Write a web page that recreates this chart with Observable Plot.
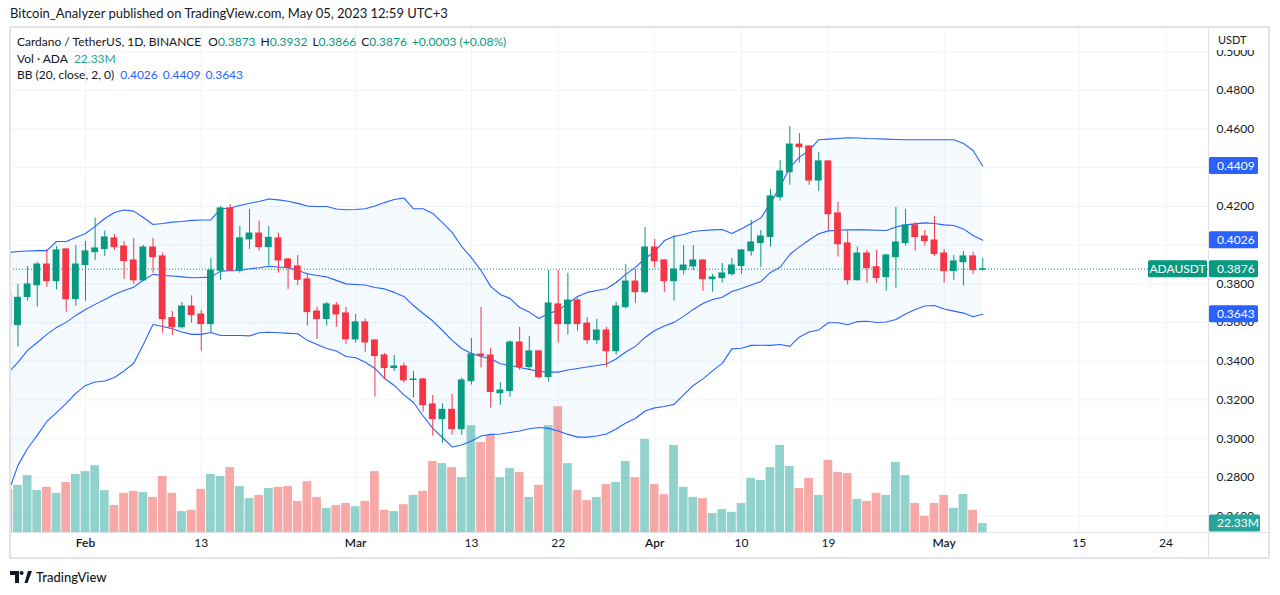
<!DOCTYPE html>
<html>
<head>
<meta charset="utf-8">
<script src="https://cdn.jsdelivr.net/npm/d3@7"></script>
<script src="https://cdn.jsdelivr.net/npm/@observablehq/plot@0.6"></script>
<style>
  body { margin: 0; background: #ffffff; font-family: Lato, "Noto Sans", sans-serif; color: #131722; }
  #wrap { position: relative; width: 1280px; height: 595px; overflow: hidden; background: #fff; }
  .layer { position: absolute; left: 0; top: 0; }
  .abs { position: absolute; white-space: nowrap; }
  .leg { font-size: 12px; line-height: 16px; }
  .gv { color: #089981; }
  .bv { color: #2962ff; }
  .sp { margin-left: 5px; }
  .line { position: absolute; background: #e0e3eb; }
</style>
</head>
<body>
<div id="wrap">
  <div class="abs" id="hdr" style="left:10px; top:5px; font-size:13px;">Bitcoin_Analyzer published on TradingView.com, May 05, 2023 12:59 UTC+3</div>
  <div class="layer" id="gridLayer"></div>
  <div class="layer" id="volLayer"></div>
  <div class="layer" id="mainLayer"></div>
  <div class="line" style="left:9px; top:26px; width:1261px; height:2px;"></div>
  <div class="line" style="left:9px; top:557px; width:1261px; height:2px;"></div>
  <div class="line" style="left:9px; top:26px; width:2px; height:533px;"></div>
  <div class="line" style="left:1268px; top:26px; width:2px; height:533px;"></div>
  <div class="line" style="left:1208px; top:26px; width:1px; height:533px;"></div>
  <div class="line" style="left:9px; top:532px; width:1261px; height:1px;"></div>
  <div class="abs leg" style="left:17px; top:34px;">Cardano / TetherUS, 1D, BINANCE<span class="sp" style="margin-left:7px">O<span class="gv">0.3873</span></span><span class="sp">H<span class="gv">0.3932</span></span><span class="sp">L<span class="gv">0.3866</span></span><span class="sp">C<span class="gv">0.3876</span></span><span class="sp gv">+0.0003 (+0.08%)</span></div>
  <div class="abs leg" style="left:17px; top:51px;">Vol · ADA<span class="sp" style="margin-left:6px; color:#26a69a">22.33M</span></div>
  <div class="abs leg" style="left:17px; top:67px;">BB (20, close, 2, 0)<span class="sp bv" style="margin-left:6px">0.4026</span><span class="sp bv">0.4409</span><span class="sp bv">0.3643</span></div>
  <div class="abs" style="left:10px; top:569px; display:flex; align-items:center; gap:4px;">
    <svg width="22" height="12" viewBox="0 0 22 12"><path d="M0 0h9v12h-4v-8h-5z" fill="#131722"/><circle cx="11.6" cy="2" r="2" fill="#131722"/><path d="M14.5 12 L18 0 h4 l-4.5 12z" fill="#131722"/></svg>
    <span style="font-size:13px; font-weight:500; color:#131722;">TradingView</span>
  </div>
</div>
<script>
// ---------- data ----------
const dates = d3.utcDay.range(new Date("2023-01-24T00:00Z"), new Date("2023-05-06T00:00Z"));

const open = [0.3749,0.3587,0.3732,0.3793,0.3900,0.3814,0.3978,0.3721,0.3897,0.3964,
0.3980,0.4035,0.3993,0.3921,0.3818,0.3988,0.3942,0.3623,0.3576,0.3683,
0.3642,0.3592,0.3868,0.4190,0.3869,0.4030,0.4060,0.3990,0.4035,0.3926,
0.3890,0.3823,0.3657,0.3618,0.3688,0.3647,0.3513,0.3601,0.3508,0.3430,
0.3365,0.3373,0.3303,0.3306,0.3177,0.3101,0.3149,0.3049,0.3297,0.3435,
0.3430,0.3235,0.3246,0.3497,0.3370,0.3451,0.3318,0.3694,0.3592,0.3714,
0.3595,0.3509,0.3559,0.3452,0.3680,0.3812,0.3757,0.3988,0.3921,0.3814,
0.3871,0.3890,0.3921,0.3824,0.3830,0.3850,0.3892,0.3969,0.4011,0.4042,
0.4248,0.4377,0.4520,0.4510,0.4334,0.4433,0.4164,0.4009,0.3819,0.3957,
0.3886,0.3835,0.3938,0.4011,0.4102,0.4045,0.4024,0.3957,0.3866,0.3912,
0.3942,0.3873];
const high = [0.3770,0.3797,0.3890,0.3912,0.3978,0.3993,0.3981,0.3999,0.4019,0.4140,
0.4073,0.4055,0.4019,0.4035,0.3999,0.4035,0.3959,0.3657,0.3704,0.3738,
0.3663,0.3931,0.4200,0.4210,0.4097,0.4185,0.4124,0.4097,0.4062,0.3933,
0.3947,0.3855,0.3680,0.3704,0.3704,0.3678,0.3642,0.3618,0.3510,0.3440,
0.3430,0.3389,0.3347,0.3310,0.3223,0.3180,0.3228,0.3313,0.3518,0.3678,
0.3466,0.3291,0.3506,0.3575,0.3528,0.3455,0.3869,0.3869,0.3854,0.3725,
0.3626,0.3616,0.3575,0.3704,0.3900,0.3874,0.4091,0.4029,0.3926,0.4050,
0.3998,0.3998,0.3924,0.3849,0.3905,0.3931,0.3978,0.4128,0.4076,0.4288,
0.4438,0.4613,0.4577,0.4515,0.4479,0.4435,0.4222,0.4071,0.3990,0.3973,
0.3973,0.3952,0.4195,0.4185,0.4117,0.4076,0.4148,0.3978,0.3947,0.3968,
0.3962,0.3932];
const low = [0.3560,0.3473,0.3711,0.3680,0.3783,0.3769,0.3654,0.3685,0.3711,0.3921,
0.3942,0.3973,0.3823,0.3797,0.3815,0.3855,0.3545,0.3533,0.3566,0.3597,
0.3452,0.3547,0.3818,0.3864,0.3855,0.3978,0.3969,0.3895,0.3855,0.3771,
0.3792,0.3582,0.3513,0.3582,0.3576,0.3487,0.3494,0.3446,0.3215,0.3306,
0.3347,0.3287,0.3210,0.3137,0.3013,0.2977,0.3018,0.3018,0.3277,0.3365,
0.3158,0.3173,0.3215,0.3353,0.3353,0.3308,0.3292,0.3494,0.3535,0.3556,
0.3487,0.3487,0.3370,0.3432,0.3669,0.3700,0.3747,0.3881,0.3757,0.3711,
0.3845,0.3869,0.3762,0.3757,0.3804,0.3840,0.3850,0.3943,0.3886,0.3990,
0.4228,0.4310,0.4424,0.4310,0.4279,0.4076,0.3938,0.3793,0.3814,0.3804,
0.3804,0.3762,0.3778,0.3995,0.3969,0.3995,0.3943,0.3804,0.3819,0.3788,
0.3850,0.3866];
const close = [0.3582,0.3728,0.3797,0.3900,0.3814,0.3973,0.3721,0.3900,0.3968,0.3983,
0.4040,0.3990,0.3918,0.3818,0.3988,0.3938,0.3618,0.3576,0.3683,0.3639,
0.3592,0.3869,0.4190,0.3869,0.4035,0.4060,0.3990,0.4038,0.3921,0.3883,
0.3821,0.3654,0.3618,0.3694,0.3642,0.3513,0.3601,0.3497,0.3427,0.3365,
0.3373,0.3301,0.3306,0.3173,0.3101,0.3149,0.3049,0.3301,0.3435,0.3427,
0.3241,0.3249,0.3497,0.3370,0.3451,0.3318,0.3699,0.3592,0.3714,0.3592,
0.3509,0.3559,0.3452,0.3683,0.3812,0.3757,0.3988,0.3917,0.3814,0.3874,
0.3895,0.3921,0.3824,0.3833,0.3854,0.3895,0.3973,0.4014,0.4045,0.4252,
0.4381,0.4520,0.4507,0.4334,0.4433,0.4160,0.4005,0.3819,0.3957,0.3881,
0.3830,0.3947,0.4014,0.4102,0.4042,0.4021,0.3954,0.3866,0.3916,0.3942,
0.3871,0.3876];
// volume in millions of ADA
const volume = [107,117,141,104,112,97,124,144,151,166,
104,67,97,102,99,87,139,97,52,55,
107,144,139,161,114,84,92,109,112,114,
77,126,87,60,67,72,64,77,151,55,
52,69,92,102,176,171,161,136,265,223,
241,136,159,149,87,117,265,312,171,104,
79,87,119,124,176,136,231,119,94,216,
112,87,84,47,57,50,72,134,129,161,
216,164,109,134,92,179,149,146,82,77,
97,92,174,141,72,40,72,92,60,94,
55,22.33];
const bbUpper = [0.3962,0.3967,0.3970,0.3972,0.3972,0.4019,0.4019,0.4040,0.4060,0.4097,
0.4138,0.4169,0.4182,0.4176,0.4143,0.4107,0.4112,0.4119,0.4122,0.4128,
0.4130,0.4131,0.4188,0.4192,0.4205,0.4217,0.4226,0.4239,0.4234,0.4227,
0.4216,0.4202,0.4200,0.4200,0.4187,0.4183,0.4184,0.4188,0.4202,0.4220,
0.4236,0.4244,0.4188,0.4188,0.4164,0.4117,0.4066,0.3993,0.3936,0.3869,
0.3787,0.3745,0.3725,0.3678,0.3654,0.3621,0.3647,0.3663,0.3699,0.3735,
0.3756,0.3766,0.3775,0.3807,0.3849,0.3885,0.3931,0.3967,0.4024,0.4045,
0.4055,0.4071,0.4076,0.4079,0.4081,0.4060,0.4085,0.4112,0.4141,0.4216,
0.4303,0.4402,0.4455,0.4489,0.4545,0.4548,0.4551,0.4555,0.4554,0.4551,
0.4550,0.4548,0.4546,0.4545,0.4545,0.4545,0.4545,0.4545,0.4545,0.4526,
0.4489,0.4409];
const bbBasis = [0.3342,0.3394,0.3456,0.3497,0.3539,0.3575,0.3601,0.3637,0.3668,0.3694,
0.3719,0.3745,0.3766,0.3783,0.3820,0.3849,0.3843,0.3841,0.3836,0.3832,
0.3833,0.3835,0.3866,0.3868,0.3869,0.3878,0.3883,0.3891,0.3887,0.3883,
0.3869,0.3852,0.3843,0.3836,0.3818,0.3800,0.3797,0.3794,0.3781,0.3774,
0.3756,0.3735,0.3688,0.3647,0.3608,0.3559,0.3508,0.3466,0.3440,0.3425,
0.3413,0.3387,0.3378,0.3368,0.3358,0.3347,0.3344,0.3344,0.3355,0.3363,
0.3370,0.3378,0.3386,0.3412,0.3448,0.3477,0.3523,0.3559,0.3582,0.3601,
0.3632,0.3668,0.3699,0.3719,0.3731,0.3761,0.3776,0.3794,0.3812,0.3859,
0.3886,0.3952,0.3991,0.4027,0.4059,0.4074,0.4077,0.4079,0.4080,0.4079,
0.4077,0.4076,0.4094,0.4105,0.4110,0.4115,0.4112,0.4105,0.4102,0.4084,
0.4050,0.4026];
const bbLower = [0.2722,0.2862,0.2949,0.3017,0.3089,0.3135,0.3182,0.3234,0.3275,0.3293,
0.3298,0.3316,0.3350,0.3390,0.3487,0.3590,0.3580,0.3568,0.3551,0.3539,
0.3539,0.3549,0.3533,0.3533,0.3533,0.3531,0.3547,0.3550,0.3547,0.3544,
0.3542,0.3508,0.3487,0.3466,0.3453,0.3425,0.3418,0.3395,0.3363,0.3311,
0.3275,0.3226,0.3187,0.3117,0.3053,0.3006,0.2957,0.2967,0.2988,0.3014,
0.3022,0.3024,0.3032,0.3040,0.3051,0.3058,0.3053,0.3040,0.3022,0.3008,
0.3008,0.3014,0.3024,0.3050,0.3081,0.3104,0.3143,0.3159,0.3166,0.3177,
0.3226,0.3275,0.3309,0.3350,0.3389,0.3464,0.3467,0.3482,0.3483,0.3482,
0.3487,0.3477,0.3526,0.3551,0.3562,0.3599,0.3599,0.3589,0.3605,0.3607,
0.3600,0.3603,0.3616,0.3644,0.3668,0.3686,0.3688,0.3670,0.3659,0.3649,
0.3630,0.3643];

const priceTicks = [0.26,0.28,0.30,0.32,0.34,0.36,0.38,0.40,0.42,0.44,0.46,0.48,0.50];
// axis labels that show in the picture (0.40 and 0.44 sit wholly under the indicator tags)
const priceLabels = [0.26,0.28,0.30,0.32,0.34,0.36,0.38,0.42,0.46,0.48,0.50];
const timeTickDates = ["2023-02-01","2023-02-13","2023-03-01","2023-03-13","2023-03-22","2023-04-01","2023-04-10","2023-04-19","2023-05-01","2023-05-15","2023-05-24"];
const timeTickLabels = ["Feb","13","Mar","13","22","Apr","10","19","May","15","24"];
const lastPrice = 0.3876;
const lastVolume = 22.33;
const bbLastValues = [0.4409, 0.4026, 0.3643];

// ---------- tables ----------
const UP = "#089981", DOWN = "#f23645";
const rows = dates.map((date, i) => ({
  date, open: open[i], high: high[i], low: low[i], close: close[i],
  volume: volume[i], upper: bbUpper[i], basis: bbBasis[i], lower: bbLower[i],
  up: close[i] >= open[i]
}));
const ticks = timeTickDates.map((s, i) => ({date: new Date(s + "T00:00Z"), label: timeTickLabels[i], month: isNaN(+timeTickLabels[i])}));

const W = 1280, H = 560;
const frame = {width: W, height: H, marginLeft: 10, marginRight: 72, marginTop: 27, marginBottom: 28};
const xScale = {type: "utc", domain: [new Date("2023-01-24T05:28Z"), new Date("2023-05-28T09:36Z")], axis: null};
const yScale = {domain: [0.2515, 0.5125], axis: null};
const FONT = "Lato, 'Noto Sans', sans-serif";
const HOUR = 3600e3;

// grid layer
const gridPlot = Plot.plot({
  ...frame, x: xScale, y: yScale,
  style: {background: "transparent"},
  marks: [
    Plot.ruleY(priceTicks, {stroke: "#f0f3fa"}),
    Plot.ruleX(ticks, {x: "date", stroke: "#f0f3fa"})
  ]
});
document.getElementById("gridLayer").appendChild(gridPlot);

// volume layer (own scale, overlaid on the bottom of the price pane)
const volPlot = Plot.plot({
  ...frame, x: xScale,
  y: {domain: [0, 320], range: [532, 532 - 320 * 0.4031], axis: null},
  color: {type: "identity"},
  style: {background: "transparent"},
  marks: [
    Plot.rect(rows, {
      x1: d => new Date(+d.date - 10.9 * HOUR), x2: d => new Date(+d.date + 10.9 * HOUR),
      y1: 0, y2: "volume",
      fill: d => d.up ? "rgba(38,166,154,0.5)" : "rgba(239,83,80,0.5)",
      clip: true
    })
  ]
});
document.getElementById("volLayer").appendChild(volPlot);

// main price layer
const mainPlot = Plot.plot({
  ...frame, x: xScale, y: yScale,
  color: {type: "identity"},
  style: {background: "transparent", fontFamily: FONT},
  marks: [
    Plot.areaY(rows, {x: "date", y1: "lower", y2: "upper", fill: "#2196f3", fillOpacity: 0.05, clip: true}),
    Plot.line(rows, {x: "date", y: "upper", stroke: "#2962ff", strokeWidth: 1.1, clip: true}),
    Plot.line(rows, {x: "date", y: "basis", stroke: "#2962ff", strokeWidth: 1.1, clip: true}),
    Plot.line(rows, {x: "date", y: "lower", stroke: "#2962ff", strokeWidth: 1.1, clip: true}),
    Plot.ruleY([lastPrice], {stroke: UP, strokeDasharray: "1 2"}),
    Plot.ruleX(rows, {x: "date", y1: "low", y2: "high", stroke: d => d.up ? UP : DOWN, clip: true}),
    Plot.rect(rows, {
      x1: d => new Date(+d.date - 8.5 * HOUR), x2: d => new Date(+d.date + 8.5 * HOUR),
      y1: "open", y2: "close", fill: d => d.up ? UP : DOWN,
      insetTop: -0.5, insetBottom: -0.5, clip: true
    }),
    Plot.text(priceLabels, {y: d => d, text: d => d3.format(".4f")(d), frameAnchor: "right", textAnchor: "start", dx: 8, fontSize: 12, fill: "#131722"}),
    Plot.text(ticks.filter(t => !t.month), {x: "date", text: "label", frameAnchor: "bottom", dy: 14, fontSize: 12, fill: "#131722"}),
    Plot.text(ticks.filter(t => t.month), {x: "date", text: "label", frameAnchor: "bottom", dy: 14, fontSize: 12, fontWeight: 600, fill: "#131722"})
  ]
});
document.getElementById("mainLayer").appendChild(mainPlot);

// price-scale tags, positioned through the plot scales
const ys = mainPlot.scale("y");
const vs = volPlot.scale("y");
const svg = d3.select(mainPlot);
function tag(y, text, color, x0, w, anchor) {
  const g = svg.append("g");
  g.append("rect").attr("x", x0).attr("y", y - 8.5).attr("width", w).attr("height", 17).attr("rx", 1.5).attr("fill", color);
  g.append("text").attr("x", anchor === "middle" ? x0 + w / 2 : x0 + 8).attr("y", y).attr("dy", "0.35em")
    .attr("text-anchor", anchor).attr("fill", "#ffffff").attr("font-size", 12).attr("font-family", FONT).text(text);
}
// USDT header over the price scale
svg.append("rect").attr("x", 1209).attr("y", 28).attr("width", 59).attr("height", 22).attr("fill", "#ffffff");
svg.append("text").attr("x", 1218).attr("y", 40).attr("dy", "0.35em").attr("text-anchor", "start")
  .attr("font-size", 11).attr("font-family", FONT).attr("fill", "#131722").text("USDT");
bbLastValues.forEach(v => tag(ys.apply(v), d3.format(".4f")(v), "#2962ff", 1209, 49, "start"));
tag(ys.apply(lastPrice), "ADAUSDT", UP, 1148, 59, "middle");
tag(ys.apply(lastPrice), d3.format(".4f")(lastPrice), UP, 1209, 49, "start");
tag(vs.apply(lastVolume), lastVolume + "M", "#26a69a", 1209, 51, "start");
</script>
</body>
</html>
